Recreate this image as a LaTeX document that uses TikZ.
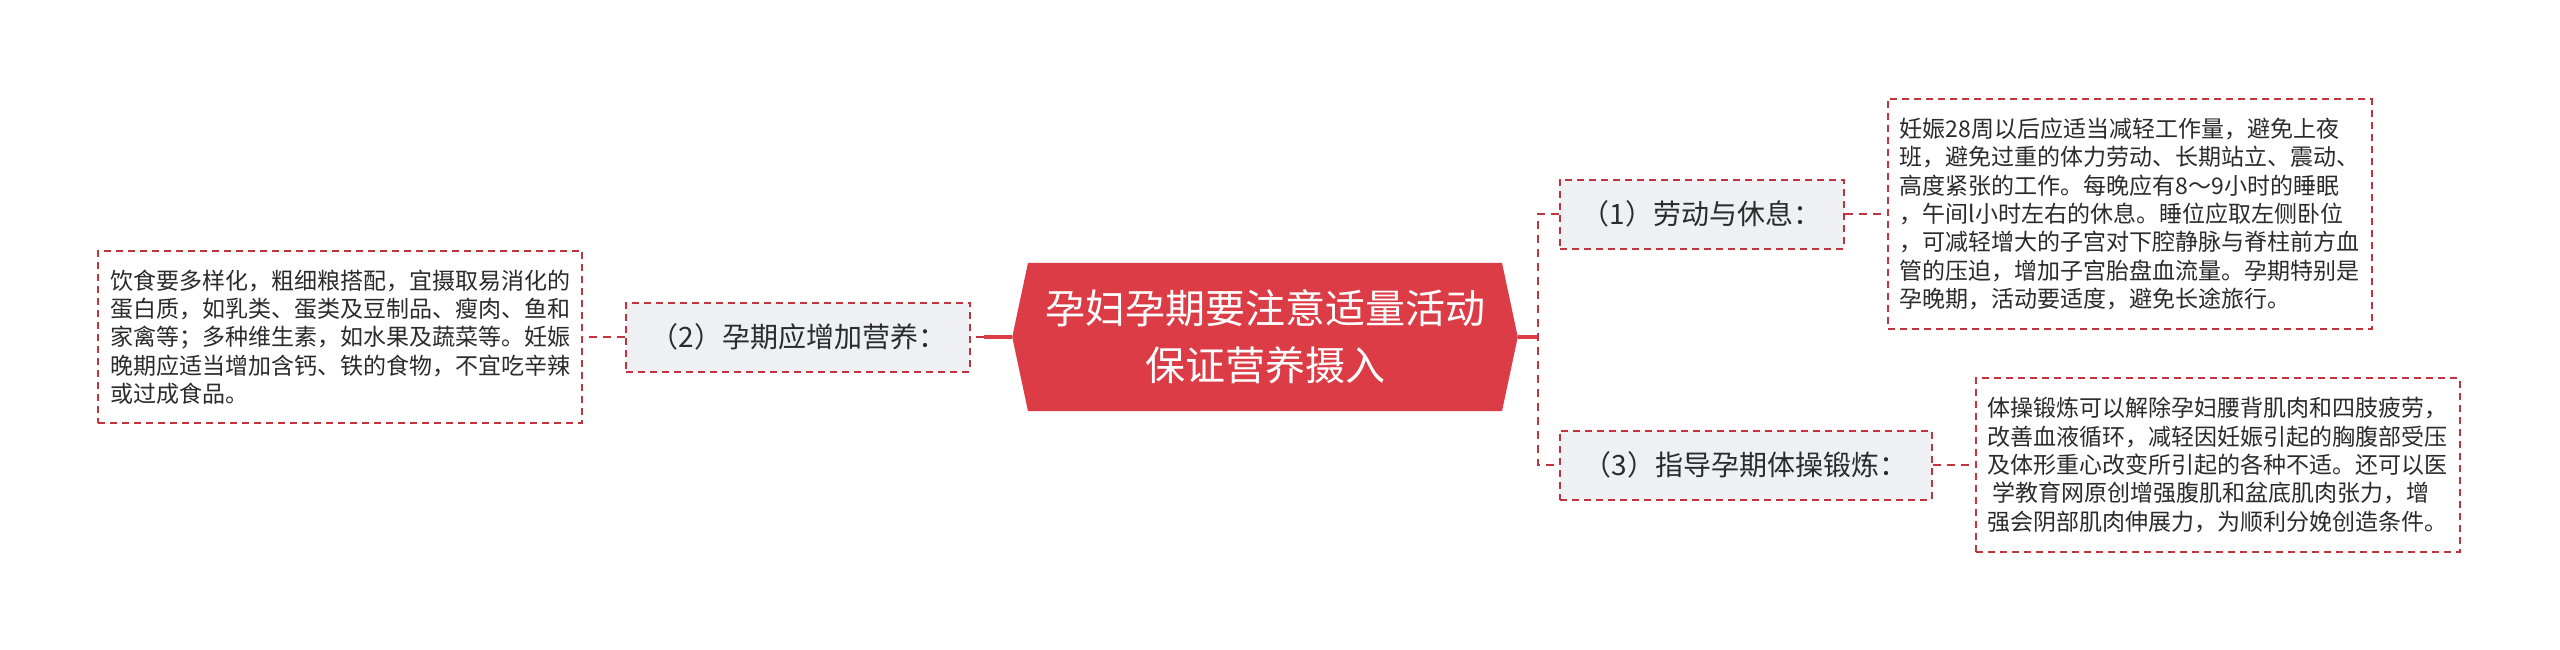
\documentclass[tikz,border=0pt]{standalone}
\usepackage{fontspec}
\setmainfont{Noto Sans CJK SC}
\usepackage{tikz}
\usetikzlibrary{shapes.symbols}
\usetikzlibrary{positioning}
\usepackage{xcolor}
\definecolor{mapred}{HTML}{DC3C45}
\definecolor{mapdash}{HTML}{C2333D}
\definecolor{mapgray}{HTML}{EEF0F3}
\definecolor{maptext}{HTML}{2B2B2B}
\tikzset{node distance=42pt, every text node part/.style={align=left}}
\tikzstyle{topic} = [signal, signal to=west and east, signal pointer angle=156, fill=mapred, text=white, inner xsep=17pt, inner ysep=27pt, every text node part/.append style={align=center, font={\fontsize{40}{57}\selectfont}}]
\tikzstyle{branch} = [rectangle, draw=mapdash, fill=mapgray, line width=2pt, dash pattern=on 7pt off 5pt, text=maptext, inner xsep=24pt, minimum height=69pt, every text node part/.append style={font={\fontsize{28}{34}\selectfont}}]
\tikzstyle{detail} = [rectangle, draw=mapdash, fill=white, line width=2pt, dash pattern=on 7pt off 5pt, text=maptext, inner xsep=12pt, inner ysep=19pt, every text node part/.append style={align=left, font={\fontsize{23}{28.3}\selectfont}}]
\tikzstyle{ln} = [draw=mapred, line width=3.5pt]
\tikzstyle{dln} = [draw=mapdash, line width=2pt, dash pattern=on 8pt off 6pt]

\begin{document}
\begin{tikzpicture}
    \useasboundingbox (0,0) rectangle (2560pt,-650pt);
    % Nodes
    \node[topic] (central) at (1265pt,-337pt) {孕妇孕期要注意适量活动\\保证营养摄入};
    \node[branch, left=41pt of central] (food) {（2）孕期应增加营养：};
    \node[detail, left=of food] (foodtxt) {饮食要多样化，粗细粮搭配，宜摄取易消化的\\蛋白质，如乳类、蛋类及豆制品、瘦肉、鱼和\\家禽等；多种维生素，如水果及蔬菜等。妊娠\\晚期应适当增加含钙、铁的食物，不宜吃辛辣\\或过成食品。};

    \node[branch, inner xsep=22pt, right=41pt of central, yshift=123pt] (rest) {（1）劳动与休息：};
    \node[detail, right=of rest] (resttxt) {妊娠28周以后应适当减轻工作量，避免上夜\\班，避免过重的体力劳动、长期站立、震动、\\高度紧张的工作。每晚应有8～9小时的睡眠\\，午间l小时左右的休息。睡位应取左侧卧位\\，可减轻增大的子宫对下腔静脉与脊柱前方血\\管的压迫，增加子宫胎盘血流量。孕期特别是\\孕晚期，活动要适度，避免长途旅行。};

    \node[branch, right=41pt of central, yshift=-128pt] (gym) {（3）指导孕期体操锻炼：};
    \node[detail, right=of gym] (gymtxt) {体操锻炼可以解除孕妇腰背肌肉和四肢疲劳，\\改善血液循环，减轻因妊娠引起的胸腹部受压\\及体形重心改变所引起的各种不适。还可以医\\\ 学教育网原创增强腹肌和盆底肌肉张力，增\\强会阴部肌肉伸展力，为顺利分娩创造条件。};

    % Paths
    \coordinate[left=28pt of central.west] (lj);
    \coordinate[right=20pt of central.east] (rj);
    \draw[ln] (central.west) -- (lj);
    \draw[dln] (lj) -- (food);
    \draw[dln] (food) -- (foodtxt);
    \draw[ln] (central.east) -- (rj);
    \draw[dln] (rest.west) -| (rj) |- (gym.west);
    \draw[dln] (rest) -- (resttxt);
    \draw[dln] (gym) -- (gymtxt);
\end{tikzpicture}
\end{document}
